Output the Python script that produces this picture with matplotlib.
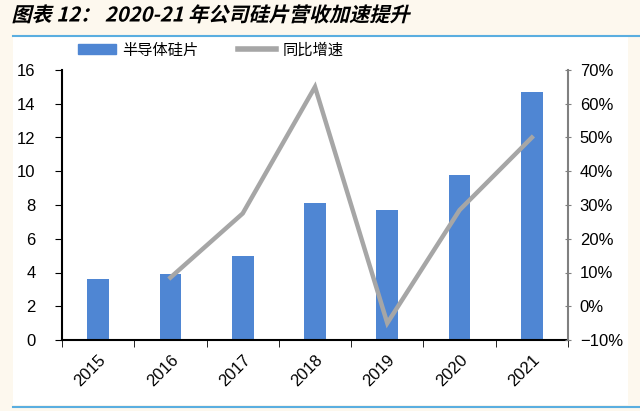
import matplotlib
matplotlib.use("Agg")
import matplotlib.pyplot as plt
from matplotlib.patches import Rectangle
from matplotlib.lines import Line2D
from matplotlib.patheffects import AbstractPathEffect
from matplotlib.transforms import Affine2D
import numpy as np

years = ["2015", "2016", "2017", "2018", "2019", "2020", "2021"]
revenue = [3.6, 3.9, 5.0, 8.1, 7.7, 9.8, 14.7]
growth_years = ["2016", "2017", "2018", "2019", "2020", "2021"]
growth = [8.5, 27.5, 65.0, -5.0, 28.5, 50.0]

plt.rcParams['font.family'] = ['Liberation Sans', 'Noto Sans CJK SC', 'DejaVu Sans']

W, H = 640, 411
fig = plt.figure(figsize=(6.4, 4.11), dpi=100, facecolor='#FDF8EE')

def fx(px): return px / W
def fy(py): return 1 - py / H


class Skew(AbstractPathEffect):
    def __init__(self, y0, deg=12):
        super().__init__()
        self.y0 = y0
        self.deg = deg

    def draw_path(self, renderer, gc, tpath, affine, rgbFace=None):
        sk = Affine2D().translate(0, -self.y0).skew_deg(self.deg, 0).translate(0, self.y0)
        renderer.draw_path(gc, tpath, affine + sk, rgbFace)


# white panel
fig.patches.append(Rectangle((fx(13), fy(405)), fx(628) - fx(13), fy(37) - fy(405),
                             transform=fig.transFigure, facecolor='white', edgecolor='none', zorder=-10))
# blue rules
fig.add_artist(Line2D([fx(13), fx(640)], [fy(36), fy(36)], transform=fig.transFigure, color='#5AAEE0', lw=1.5, zorder=-5))
fig.add_artist(Line2D([fx(13), fx(640)], [fy(407), fy(407)], transform=fig.transFigure, color='#5AAEE0', lw=1.5, zorder=-5))

title_y = fy(15)
fig.text(fx(13), title_y, "图表 12： 2020-21 年公司硅片营收加速提升", fontsize=14.5, fontweight='bold',
         va='center', ha='left', color='black',
         family=['Noto Sans CJK SC', 'DejaVu Sans'],
         path_effects=[Skew(title_y * H, 14)])

ax = fig.add_axes([fx(62), fy(340), fx(568) - fx(62), fy(70) - fy(340)])
ax.set_facecolor('none')
x = np.arange(len(years))
bars = ax.bar(x, revenue, width=0.3, color='#4F86D3', zorder=2)
ax.set_xlim(-0.5, len(years) - 0.5)
ax.set_ylim(0, 16)
ax.set_yticks(np.arange(0, 17, 2))
ax.set_xticks(x)
ax.set_xticklabels(years, rotation=45, fontsize=12, ha='right', rotation_mode='anchor')
ax.set_xticks(np.arange(-0.5, len(years), 1), minor=True)
ax.tick_params(axis='x', which='major', length=0, pad=9)
ax.tick_params(axis='x', which='minor', length=5, direction='out', color='black')
ax.tick_params(axis='y', length=5, direction='out', labelsize=12, pad=14, color='black')
for s in ['top', 'right']:
    ax.spines[s].set_visible(False)
ax.spines['left'].set_linewidth(1.5)
ax.spines['bottom'].set_linewidth(1.5)

ax2 = ax.twinx()
gx = [years.index(y) for y in growth_years]
line, = ax2.plot(gx, growth, color='#A6A6A6', lw=3.2, zorder=3, solid_joinstyle='miter')
ax2.set_ylim(-10, 70)
ax2.set_yticks(np.arange(-10, 71, 10))
ax2.set_yticklabels([f"{v}%" if v >= 0 else f"\u2212{-v}%" for v in range(-10, 71, 10)])
ax2.tick_params(axis='y', length=5, direction='inout', labelsize=12, color='#808080', pad=6)
for s in ['top', 'left', 'bottom']:
    ax2.spines[s].set_visible(False)
ax2.spines['right'].set_color('#808080')
ax2.spines['right'].set_linewidth(1.5)

leg_handles = [Rectangle((0, 0), 1, 1, color='#4F86D3'), Line2D([], [], color='#A6A6A6', lw=4)]
fig.legend(leg_handles, ["半导体硅片", "同比增速"], loc='center left', bbox_to_anchor=(fx(64), fy(50)),
           ncol=2, frameon=False, handlelength=2.5, handleheight=0.55, columnspacing=2.6,
           handletextpad=0.4,
           prop={'family': ['Noto Sans CJK SC', 'DejaVu Sans'], 'size': 11})

fig.savefig("out.png", dpi=100, facecolor=fig.get_facecolor())
